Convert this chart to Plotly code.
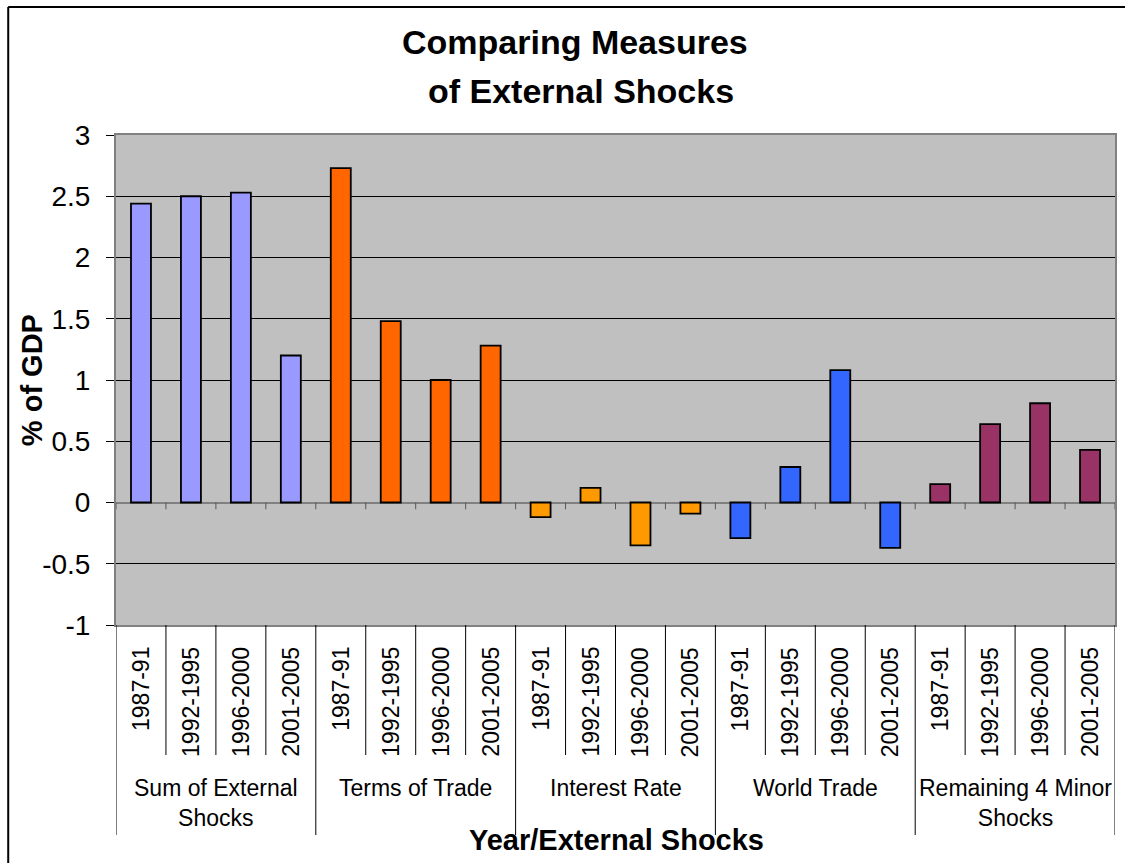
import plotly.graph_objects as go

# Periods within each shock category
periods = ["1987-91", "1992-1995", "1996-2000", "2001-2005"]
# Shock categories (line breaks as drawn under the axis)
groups = [
    "Sum of External<br>Shocks",
    "Terms of Trade",
    "Interest Rate",
    "World Trade",
    "Remaining 4 Minor<br>Shocks",
]
# Shock size, % of GDP
sum_shocks = [2.44, 2.50, 2.53, 1.20]
terms_of_trade = [2.73, 1.48, 1.00, 1.28]
interest_rate = [-0.12, 0.12, -0.35, -0.09]
world_trade = [-0.29, 0.29, 1.08, -0.37]
minor_shocks = [0.15, 0.64, 0.81, 0.43]
colors = ["#9999FF", "#FF6600", "#FF9900", "#3366FF", "#993366"]

y_ticks = [3, 2.5, 2, 1.5, 1, 0.5, 0, -0.5, -1]

series = [sum_shocks, terms_of_trade, interest_rate, world_trade, minor_shocks]
n_per = len(periods)
n_cat = n_per * len(groups)

fig = go.Figure()
for g, (vals, col) in enumerate(zip(series, colors)):
    xs = [g * n_per + i for i in range(n_per)]
    fig.add_trace(go.Bar(
        x=xs, y=vals, width=0.4,
        marker=dict(color=col, line=dict(color="black", width=1.8)),
        showlegend=False, hoverinfo="y",
    ))

font = "Liberation Sans, Arial, sans-serif"

# pixel helpers for the area below the plot (plot spans 135..625 px vertically)
top_px, bot_px = 135, 625
def py(px):
    return (bot_px - px) / (bot_px - top_px)

shapes = []
# dividers under the axis: short ones between periods, long ones between categories
for b in range(n_cat + 1):
    xb = b - 0.5
    long = (b % n_per == 0)
    shapes.append(dict(type="line", xref="x", yref="paper", x0=xb, x1=xb,
                       y0=0, y1=py(835 if long else 755),
                       line=dict(color="black", width=1)))
    # small ticks on the zero line
    shapes.append(dict(type="line", xref="x", yref="y", x0=xb, x1=xb,
                       y0=0, y1=-0.055, line=dict(color="#555555", width=1)))

# outer chart frame (top and left edges)
fx = (8 - 116) / 1001
fy = py(7)
shapes.append(dict(type="line", xref="paper", yref="paper", x0=fx, x1=1.2,
                   y0=fy, y1=fy, line=dict(color="black", width=2)))
shapes.append(dict(type="line", xref="paper", yref="paper", x0=fx, x1=fx,
                   y0=fy, y1=-0.6, line=dict(color="black", width=2)))

annotations = []
for c in range(n_cat):
    annotations.append(dict(
        text=periods[c % n_per], x=c, xref="x", y=py(645), yref="paper",
        textangle=-90, xanchor="center", yanchor="top", showarrow=False,
        font=dict(family=font, size=23, color="black"),
    ))
for g, name in enumerate(groups):
    annotations.append(dict(
        text=name, x=g * n_per + (n_per - 1) / 2, xref="x",
        y=py(773), yref="paper", xanchor="center", yanchor="top",
        showarrow=False, font=dict(family=font, size=23, color="black"),
    ))

# titles
annotations += [
    dict(text="<b>Comparing Measures</b>", x=(576 - 116) / 1001, xref="paper",
         y=py(42), yref="paper", xanchor="center", yanchor="middle",
         showarrow=False, font=dict(family=font, size=34, color="black")),
    dict(text="<b>of External Shocks</b>", x=(582 - 116) / 1001, xref="paper",
         y=py(91), yref="paper", xanchor="center", yanchor="middle",
         showarrow=False, font=dict(family=font, size=34, color="black")),
    dict(text="<b>% of GDP</b>", x=(32 - 116) / 1001, xref="paper",
         y=0.5, yref="paper", textangle=-90, xanchor="center", yanchor="middle",
         showarrow=False, font=dict(family=font, size=29, color="black")),
    dict(text="<b>Year/External Shocks</b>", x=(618 - 116) / 1001, xref="paper",
         y=py(840), yref="paper", xanchor="center", yanchor="middle",
         showarrow=False, font=dict(family=font, size=29, color="black")),
]

fig.update_layout(
    width=1125, height=863,
    margin=dict(l=116, r=8, t=135, b=238),
    paper_bgcolor="white", plot_bgcolor="#C0C0C0",
    barmode="overlay",
    shapes=shapes, annotations=annotations,
    xaxis=dict(range=[-0.5, n_cat - 0.5], showticklabels=False, showgrid=False,
               zeroline=False, ticks="", showline=True, mirror=True,
               linecolor="#808080", linewidth=2, fixedrange=True),
    yaxis=dict(range=[-1, 3], tickvals=y_ticks, ticktext=[str(v) for v in y_ticks],
               showgrid=True, gridcolor="black", gridwidth=1,
               zeroline=True, zerolinecolor="#808080", zerolinewidth=2,
               ticks="outside", ticklen=8, tickcolor="black", tickwidth=1,
               ticklabelstandoff=10,
               showline=True, mirror=True, linecolor="#808080", linewidth=2,
               tickfont=dict(family=font, size=28, color="black"),
               fixedrange=True),
)

fig.write_html("out.html")
